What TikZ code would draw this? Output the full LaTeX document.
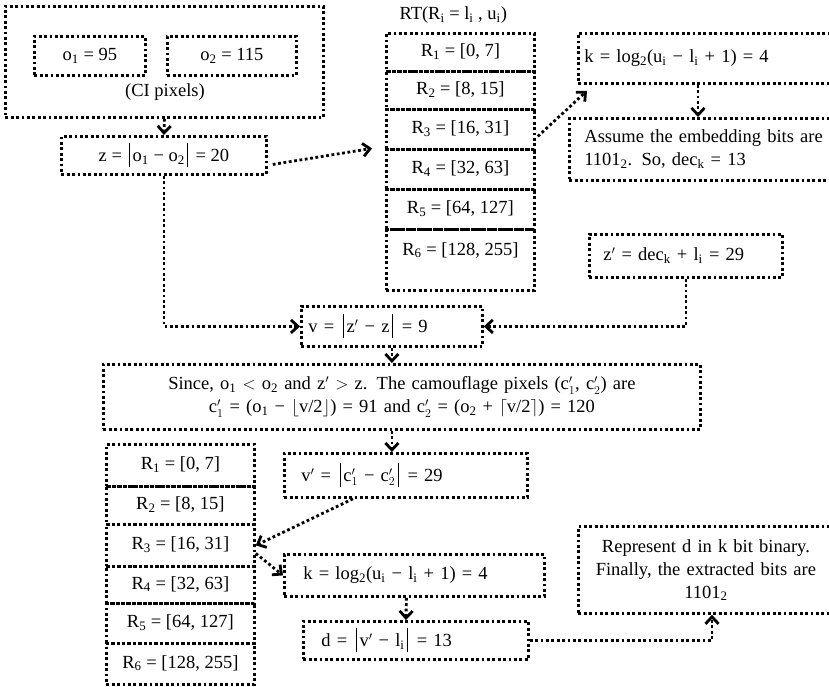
\documentclass[tikz,border=0pt]{standalone}
\usepackage{fontspec}
\setmainfont{Liberation Serif}
\usetikzlibrary{arrows.meta}
\newcommand{\absbar}{\kern2.5pt\rule[-6pt]{1.1pt}{24pt}\kern2.5pt}
\tikzset{
  dotline/.style={line width=2.8pt,dash pattern=on 2.8pt off 2.6pt},
  box/.style={draw,dotline,anchor=north west,inner sep=0pt},
  lbox/.style={box,align=left},
  rowbox/.style={box,minimum width=148pt,text depth=4pt},
  flow/.style={dotline,-{Straight Barb[length=7pt,width=13pt]}},
}

\begin{document}
\begin{tikzpicture}[x=1pt,y=-1pt,font=\fontsize{18.5}{23}\selectfont]
  \clip[use as bounding box] (0,0) rectangle (829,686);
  % cover image pixels
  \node[box,minimum width=318pt,minimum height=111pt] (ci) at (4,5) {};
  \node[box,minimum width=111pt,minimum height=39pt] (o1) at (33,35) {o\textsubscript{1} = 95};
  \node[box,minimum width=129pt,minimum height=39pt] (o2) at (166,35) {o\textsubscript{2} = 115};
  \node (cilabel) at (165,92) {(CI pixels)};
  \node[box,minimum width=205pt,minimum height=38pt] (z) at (60,135) {z = \absbar o\textsubscript{1} − o\textsubscript{2}\absbar{} = 20};

  % range table, embedding side
  \node[anchor=west] (rtlabel) at (396,15) {RT(R\textsubscript{i} = l\textsubscript{i} , u\textsubscript{i})};
  \foreach \i/\rng/\ytop/\hgt in {1/{[0, 7]}/32/38, 2/{[8, 15]}/70/38, 3/{[16, 31]}/108/40,
                                  4/{[32, 63]}/148/40, 5/{[64, 127]}/188/40}
    \node[rowbox,minimum height=\hgt pt] (ru\i) at (385,\ytop) {R\textsubscript{\i} = \rng};
  \node[rowbox,minimum height=61pt,text depth=22pt] (ru6) at (385,228) {R\textsubscript{6} = [128, 255]};

  \node[lbox,minimum height=50pt,inner xsep=6pt,text width=251pt] (k) at (577,32)
    {k = log\textsubscript{2}(u\textsubscript{i} − l\textsubscript{i} + 1) = 4};
  \node[lbox,minimum height=62pt,inner xsep=15pt,text width=242pt] (assume) at (568,117)
    {Assume the embedding bits are\\1101\textsubscript{2}. So, dec\textsubscript{k} = 13};
  \node[lbox,minimum height=43pt,inner xsep=14pt,text width=165pt] (zp) at (588,233)
    {z$'$ = dec\textsubscript{k} + l\textsubscript{i} = 29};
  \node[lbox,minimum height=40pt,inner xsep=7pt,text width=167pt] (v) at (300,305)
    {v = \absbar z$'$ − z\absbar{} = 9};
  \node[box,minimum height=65pt,text width=597pt,align=center] (since) at (102,363)
    {Since, o\textsubscript{1} $<$ o\textsubscript{2} and z$'$ $>$ z. The camouflage pixels (c$'_1$, c$'_2$) are\\
     c$'_1$ = (o\textsubscript{1} − $\lfloor$v/2$\rfloor$) = 91 and c$'_2$ = (o\textsubscript{2} + $\lceil$v/2$\rceil$) = 120};

  % extraction side
  \node[lbox,minimum height=44pt,inner xsep=17pt,text width=209pt] (vp) at (283,452)
    {v$'$ = \absbar c$'_1$ − c$'_2$\absbar{} = 29};
  \foreach \i/\rng/\ytop/\hgt in {1/{[0, 7]}/443/42, 2/{[8, 15]}/485/38, 3/{[16, 31]}/523/42,
                                  4/{[32, 63]}/565/37, 5/{[64, 127]}/602/40, 6/{[128, 255]}/642/41}
    \node[rowbox,minimum height=\hgt pt] (rl\i) at (105,\ytop) {R\textsubscript{\i} = \rng};
  \node[lbox,minimum height=42pt,inner xsep=19pt,text width=222pt] (k2) at (283,553)
    {k = log\textsubscript{2}(u\textsubscript{i} − l\textsubscript{i} + 1) = 4};
  \node[lbox,minimum height=38pt,inner xsep=18pt,text width=189pt] (d) at (302,620)
    {d = \absbar v$'$ − l\textsubscript{i}\absbar{} = 13};
  \node[box,minimum height=87pt,text width=255pt,align=center] (rep) at (577,525)
    {Represent d in k bit binary.\\Finally, the extracted bits are\\1101\textsubscript{2}};

  % connectors
  \draw[flow] (ci.south) -- (z.north);
  \draw[flow] ([xshift=5pt,yshift=-9pt]z.east) -- ([xshift=-13pt,yshift=-19pt]ru3.west);
  \draw[flow] ([xshift=2pt,yshift=-7pt]ru3.east) -- ([xshift=10pt,yshift=-6pt]k.south west);
  \draw[flow] ([xshift=121pt]k.south west) -- ([xshift=130pt]assume.north west);
  \draw[flow] (z.south) |- (v.west);
  \draw[flow] (zp.south) |- (v.east);
  \draw[flow] (v.south) -- (v.south |- since.north);
  \draw[flow] (since.south -| v.south) -- (vp.north -| v.south);
  \draw[flow] ([xshift=70pt]vp.south west) -- (rl3.east);
  \draw[flow] ([yshift=-8pt]rl3.east) -- (k2.west);
  \draw[flow] ([xshift=-8pt]k2.south) -- ([xshift=-10pt]d.north);
  \draw[flow] (d.east) -| ([xshift=135pt]rep.south west);
\end{tikzpicture}
\end{document}
